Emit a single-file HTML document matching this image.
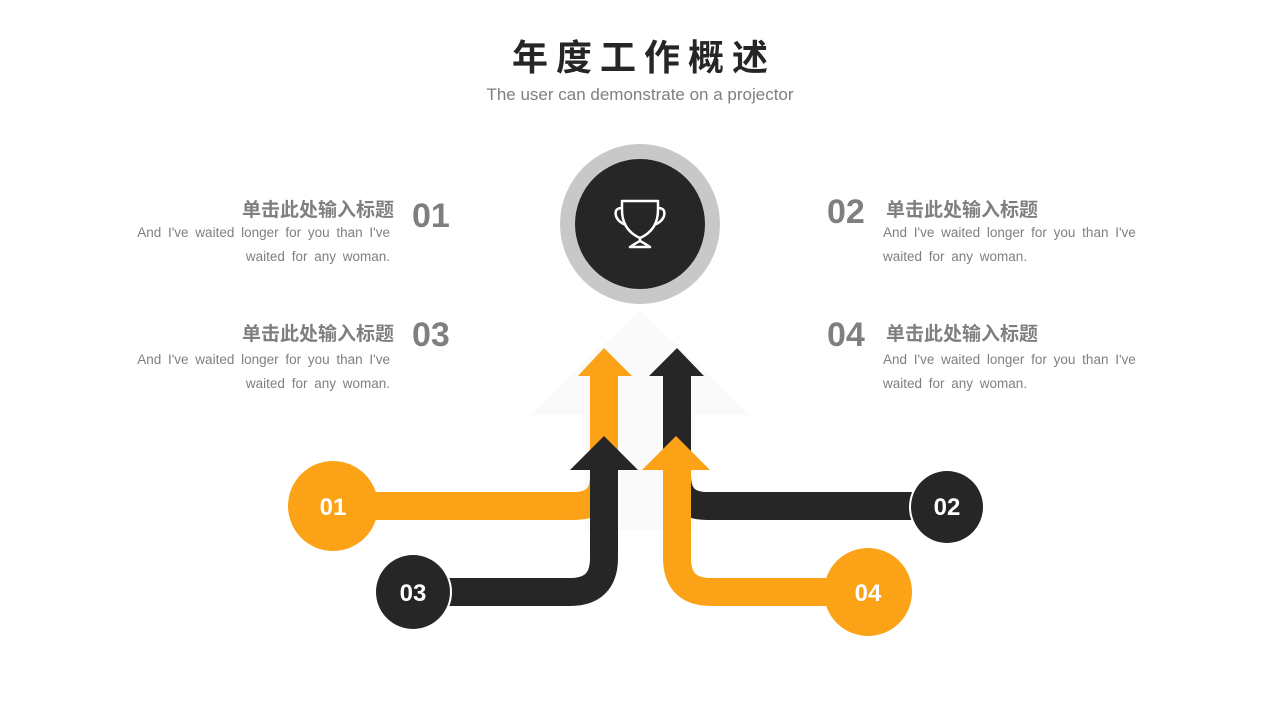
<!DOCTYPE html>
<html><head><meta charset="utf-8"><style>
body{margin:0;width:1280px;height:720px;background:#fff;overflow:hidden;position:relative;font-family:"Liberation Sans","Noto Sans CJK SC",sans-serif}
.t{position:absolute;white-space:nowrap}
.h{font-size:19px;font-weight:bold;color:#7f7f7f}
.n{font-size:34px;font-weight:bold;color:#7f7f7f}
.p{font-size:13.5px;color:#7f7f7f;line-height:24px;word-spacing:3px}
</style></head><body>
<svg width="1280" height="720" style="position:absolute;left:0;top:0">
<polygon points="640,310 750,415 695,415 695,530 585,530 585,415 530,415" fill="#fafafa"/>
<circle cx="640" cy="224" r="80" fill="#c8c8c8"/>
<circle cx="640" cy="224" r="65" fill="#262626"/>
<g fill="none" stroke="#fff" stroke-width="2.5" stroke-linejoin="round">
<path d="M622,201 H658 V210 Q658,230 640,238 Q622,230 622,210 Z"/>
<path d="M622,208 Q614,208 616,216 Q618,222 626,225"/>
<path d="M658,208 Q666,208 664,216 Q662,222 654,225"/>
<path d="M640,238 V241 Q636,243 630,247 H650 Q644,243 640,241"/>
</g>
<path d="M333,506 H574 Q604,506 604,476 V370" fill="none" stroke="#fba216" stroke-width="28"/>
<polygon points="604,348 632,376 578,376" fill="#fba216"/>
<path d="M947,506 H707 Q677,506 677,476 V370" fill="none" stroke="#262626" stroke-width="28"/>
<polygon points="677,348 704,376 649,376" fill="#262626"/>
<path d="M413,592 H570 Q604,592 604,558 V460" fill="none" stroke="#262626" stroke-width="28"/>
<polygon points="604,436 638,470 570,470" fill="#262626"/>
<path d="M868,592 H711 Q677,592 677,558 V460" fill="none" stroke="#fba216" stroke-width="28"/>
<polygon points="676,436 710,470 642,470" fill="#fba216"/>
<circle cx="333" cy="506" r="45" fill="#fba216"/>
<circle cx="947" cy="507" r="38" fill="#fff"/><circle cx="947" cy="507" r="36" fill="#262626"/>
<circle cx="413" cy="592" r="39" fill="#fff"/><circle cx="413" cy="592" r="37" fill="#262626"/>
<circle cx="868" cy="592" r="44" fill="#fba216"/>
<g font-family="Liberation Sans" font-weight="bold" font-size="24" fill="#fff" text-anchor="middle">
<text x="333" y="515">01</text><text x="947" y="515">02</text><text x="413" y="601">03</text><text x="868" y="601">04</text>
</g>
</svg>
<div class="t" style="left:0;width:1280px;text-align:center;top:29px;font-size:36px;font-weight:bold;color:#262626;letter-spacing:8px;padding-left:8px;box-sizing:border-box">年度工作概述</div>
<div class="t" style="left:0;width:1280px;text-align:center;top:85px;font-size:17px;color:#7f7f7f">The user can demonstrate on a projector</div>

<div class="t h" style="right:886px;top:195px">单击此处输入标题</div>
<div class="t n" style="left:412px;top:197px">01</div>
<div class="t p" style="right:890px;top:221px;text-align:right">And I've waited longer for you than I've<br>waited for any woman.</div>

<div class="t h" style="right:886px;top:319px">单击此处输入标题</div>
<div class="t n" style="left:412px;top:316px">03</div>
<div class="t p" style="right:890px;top:348px;text-align:right">And I've waited longer for you than I've<br>waited for any woman.</div>

<div class="t n" style="left:827px;top:193px">02</div>
<div class="t h" style="left:886px;top:195px">单击此处输入标题</div>
<div class="t p" style="left:883px;top:221px">And I've waited longer for you than I've<br>waited for any woman.</div>

<div class="t n" style="left:827px;top:316px">04</div>
<div class="t h" style="left:886px;top:319px">单击此处输入标题</div>
<div class="t p" style="left:883px;top:348px">And I've waited longer for you than I've<br>waited for any woman.</div>
</body></html>
